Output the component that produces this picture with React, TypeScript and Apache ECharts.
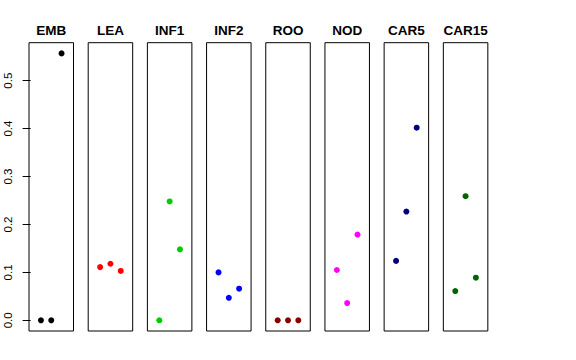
import React, { useEffect, useRef } from "react";
import * as echarts from "echarts";

const panels = ["EMB", "LEA", "INF1", "INF2", "ROO", "NOD", "CAR5", "CAR15"];
const colors = ["#000000", "#FF0000", "#00CD00", "#0000FF", "#8B0000", "#FF00FF", "#000080", "#006400"];
const embValues = [0, 0, 0.557];
const leaValues = [0.111, 0.118, 0.103];
const inf1Values = [0, 0.248, 0.148];
const inf2Values = [0.1, 0.047, 0.066];
const rooValues = [0, 0, 0];
const nodValues = [0.105, 0.036, 0.179];
const car5Values = [0.124, 0.227, 0.402];
const car15Values = [0.061, 0.259, 0.089];
const allValues = [embValues, leaValues, inf1Values, inf2Values, rooValues, nodValues, car5Values, car15Values];
const yTicks = [0, 0.1, 0.2, 0.3, 0.4, 0.5];
const xPositions = [1, 2, 3];

export default function App() {
  const ref = useRef<HTMLDivElement>(null);
  useEffect(() => {
    if (!ref.current) return;
    const chart = echarts.init(ref.current, null, { renderer: "svg" });
    const left0 = 29;
    const pitch = 59.19;
    const width = 44.5;
    const top = 42.7;
    const height = 288.3;
    const yMin = -0.0223;
    const yMax = 0.5793;
    const grids: any[] = [];
    const xAxes: any[] = [];
    const yAxes: any[] = [];
    const series: any[] = [];
    const graphics: any[] = [];
    panels.forEach((name, i) => {
      const left = left0 + i * pitch;
      grids.push({ left, top, width, height, show: true, borderColor: "#000", borderWidth: 1, backgroundColor: "transparent" });
      xAxes.push({ gridIndex: i, type: "value", min: -0.16, max: 4.16, show: false });
      yAxes.push({
        gridIndex: i,
        type: "value",
        min: yMin,
        max: yMax,
        show: i === 0,
        splitLine: { show: false },
        axisLine: { show: false },
        axisTick: { show: i === 0, length: 8, lineStyle: { color: "#000", width: 1 }, customValues: yTicks },
        axisLabel: {
          show: i === 0,
          customValues: yTicks,
          rotate: 90,
          margin: 15,
          color: "#000",
          fontSize: 11.5,
          fontFamily: "Liberation Sans, Arial, sans-serif",
          formatter: (v: number) => v.toFixed(1),
        },
      });
      series.push({
        type: "scatter",
        xAxisIndex: i,
        yAxisIndex: i,
        symbol: "circle",
        symbolSize: 6,
        itemStyle: { color: colors[i], opacity: 1 },
        data: allValues[i].map((v, j) => [xPositions[j], v]),
      });
      graphics.push({
        type: "text",
        x: left + width / 2,
        y: 30,
        style: {
          text: name,
          fill: "#000",
          font: "bold 13.5px 'Liberation Sans', Arial, sans-serif",
          textAlign: "center",
          textVerticalAlign: "middle",
        },
      });
    });
    chart.setOption({
      animation: false,
      backgroundColor: "#fff",
      grid: grids,
      xAxis: xAxes,
      yAxis: yAxes,
      series,
      graphic: graphics,
    });
    return () => chart.dispose();
  }, []);
  return <div ref={ref} style={{ position: "fixed", left: 0, top: 0, width: 576, height: 360 }} />;
}
